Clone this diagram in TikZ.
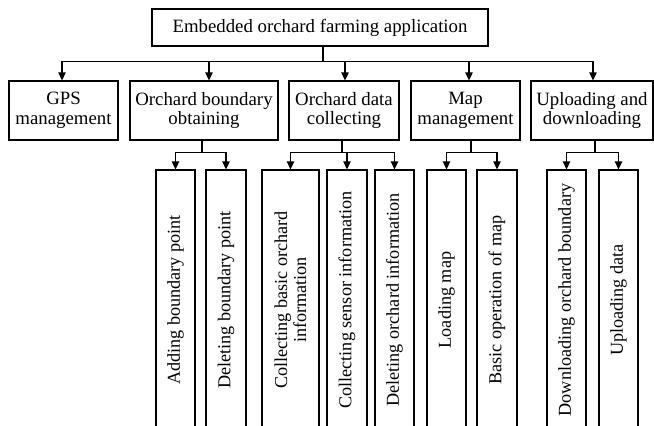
\documentclass[tikz,border=0pt]{standalone}
\usepackage{fontspec}
\setmainfont{Liberation Serif}
\usetikzlibrary{arrows.meta}
\begin{document}
\begin{tikzpicture}[x=1pt,y=-1pt,
  box/.style={draw, line width=1.3pt, inner sep=0pt, align=center,
    font=\fontsize{18.8}{19.5}\selectfont},
  mid/.style={box, minimum height=59pt, minimum width=#1},
  leaf/.style={box, rotate=90, minimum width=260pt, minimum height=#1,
    font=\fontsize{18.2}{19}\selectfont},
  link/.style={line width=1.3pt},
  arr/.style={link, -{Triangle[length=8pt,width=7.5pt]}}]
\useasboundingbox (0,0) rectangle (654,426);
\clip (0,0) rectangle (654,426);

% root
\node[box, minimum width=336pt, minimum height=37pt] (root) at (320,27.5)
  {Embedded orchard farming application};

% second level
\node[mid=109pt] (gps) at (63.5,110.5) {GPS\\management};
\node[mid=148pt] (ob)  at (204,110.5)  {Orchard boundary\\obtaining};
\node[mid=110pt] (od)  at (344,110.5)  {Orchard data\\collecting};
\node[mid=109pt] (mm)  at (465.5,110.5) {Map\\management};
\node[mid=122pt] (ud)  at (592,110.5)  {Uploading and\\downloading};

% third level (vertical boxes)
\node[leaf=39pt] (addb)  at (175.5,300) {Adding boundary point};
\node[leaf=40pt] (delb)  at (226,300)   {Deleting boundary point};
\node[leaf=57pt] (colb)  at (290.5,300) {Collecting basic orchard\\information};
\node[leaf=40pt] (cols)  at (347,300)   {Collecting sensor information};
\node[leaf=39pt] (delo)  at (394.5,300) {Deleting orchard information};
\node[leaf=39pt] (loadm) at (446.5,300) {Loading map};
\node[leaf=40pt] (basm)  at (497,300)   {Basic operation of map};
\node[leaf=39pt] (downb) at (566.5,300) {Downloading orchard boundary};
\node[leaf=39pt] (upd)   at (618.5,300) {Uploading data};

% root to second level
\draw[link] ([xshift=3pt]root.south) -- ++(0,15) coordinate (hub);
\draw[arr] (hub) -| ([xshift=-1.5pt]gps.north);
\draw[arr] (hub) -| ([xshift=5pt]ob.north);
\draw[arr] (hub) -| ([xshift=1pt]od.north);
\draw[arr] (hub) -| ([xshift=3.5pt]mm.north);
\draw[arr] (hub) -| ([xshift=1pt]ud.north);

% second level to third level
\draw[link] ([xshift=-2pt]ob.south) -- ++(0,12) coordinate (obhub);
\draw[arr] (obhub) -| (addb.east);
\draw[arr] (obhub) -| (delb.east);

\draw[link] ([xshift=-2pt]od.south) -- ++(0,12) coordinate (odhub);
\draw[arr] (odhub) -| (colb.east);
\draw[arr] (odhub) -| (cols.east);
\draw[arr] (odhub) -| (delo.east);

\draw[link] ([xshift=5.5pt]mm.south) -- ++(0,12) coordinate (mmhub);
\draw[arr] (mmhub) -| (loadm.east);
\draw[arr] (mmhub) -| (basm.east);

\draw[link] ([xshift=3pt]ud.south) -- ++(0,12) coordinate (udhub);
\draw[arr] (udhub) -| (downb.east);
\draw[arr] (udhub) -| (upd.east);
\end{tikzpicture}
\end{document}
